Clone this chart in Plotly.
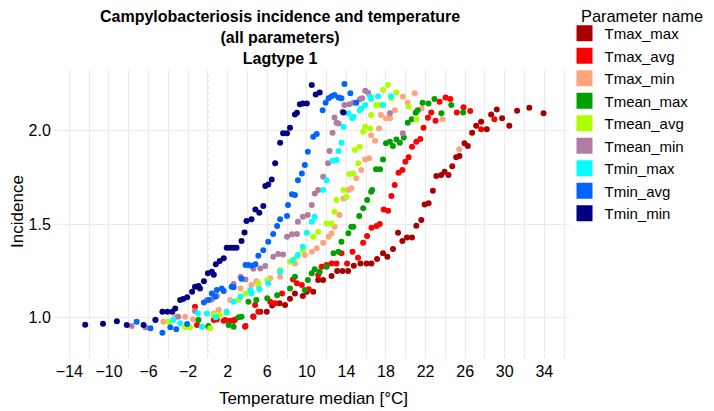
import plotly.graph_objects as go

# ---------------- data ----------------
series_names = ["Tmax_max", "Tmax_avg", "Tmax_min", "Tmean_max", "Tmean_avg",
                "Tmean_min", "Tmin_max", "Tmin_avg", "Tmin_min"]

tmax_max_x = [2.6, 3.8, 4.6, 5.3, 5.95, 6.5, 7.25, 7.8, 8.3, 8.8, 9.6, 10.0, 10.65, 11.15, 11.65,
              12.5, 13.07, 13.61, 14.17, 14.75, 15.42, 16.03, 16.53, 17.1, 17.7, 18.14, 18.71,
              19.22, 19.66, 20.12, 20.63, 21.07, 21.57, 21.91, 22.31, 22.74, 23.09, 23.59, 23.92,
              24.32, 24.7, 25.1, 25.43, 25.94, 26.27, 26.71, 27.12, 27.62, 28.19, 28.63, 29.2,
              29.74, 30.47, 31.25, 32.49, 33.93]
tmax_max_y = [0.982, 0.953, 1.005, 1.030, 1.030, 1.063, 1.075, 1.066, 1.100, 1.128, 1.114, 1.137,
              1.137, 1.200, 1.200, 1.221, 1.248, 1.248, 1.248, 1.277, 1.289, 1.289, 1.289, 1.312,
              1.343, 1.325, 1.366, 1.453, 1.409, 1.428, 1.428, 1.491, 1.521, 1.605, 1.611, 1.678,
              1.757, 1.762, 1.780, 1.762, 1.810, 1.857, 1.864, 1.932, 1.918, 1.989, 2.026, 2.048,
              2.007, 2.087, 2.114, 2.066, 2.026, 2.107, 2.123, 2.093]

tmax_avg_x = [-1.3, -1.1, 0.06, 0.6, 0.9, 1.6, 1.75, 2.25, 2.75, 3.76, 4.6, 4.77, 5.1, 6.3, 6.8,
              7.5, 8.6, 9.0, 9.5, 10.2, 11.15, 11.5, 12.0, 12.5, 13.0, 13.5, 14.07, 14.62, 15.18,
              15.69, 16.09, 16.53, 17.04, 17.37, 17.77, 18.21, 18.55, 18.88, 19.28, 19.66, 19.96,
              20.29, 20.63, 21.07, 21.47, 21.8, 22.24, 22.58, 23.01, 23.42, 24.02, 24.5, 25.16,
              25.84, 26.51, 27.62, 28.96]
tmax_avg_y = [1.057, 0.959, 0.950, 0.986, 0.989, 0.982, 0.986, 0.982, 0.989, 0.950, 1.003, 1.066,
              1.030, 1.084, 1.075, 1.128, 1.203, 1.182, 1.173, 1.150, 1.227, 1.271, 1.280, 1.289,
              1.289, 1.343, 1.289, 1.351, 1.319, 1.400, 1.436, 1.480, 1.489, 1.500, 1.578, 1.571,
              1.650, 1.709, 1.775, 1.789, 1.833, 1.857, 1.914, 1.941, 1.955, 2.016, 2.069, 2.098,
              2.053, 2.155, 2.178, 2.169, 2.098, 2.125, 2.105, 2.007, 2.061]

tmax_min_x = [-4.5, -3.3, -2.3, -1.5, 0.6, 1.1, 2.25, 3.3, 4.4, 4.9, 5.1, 6.3, 7.3, 8.8, 9.8, 10.5,
              11.0, 11.65, 12.2, 12.5, 12.8, 13.3, 13.7, 14.2, 14.5, 15.0, 15.5, 15.9, 16.3, 16.5,
              16.9, 17.3, 17.5, 18.0, 18.4, 18.9, 19.7, 20.2, 20.9, 21.6, 23.7, 25.4]
tmax_min_y = [0.977, 1.003, 1.003, 0.990, 1.021, 1.039, 1.093, 1.155, 1.173, 1.194, 1.173, 1.209,
              1.217, 1.289, 1.334, 1.351, 1.370, 1.400, 1.432, 1.450, 1.485, 1.548, 1.637, 1.682,
              1.691, 1.745, 1.789, 1.846, 1.852, 1.976, 1.946, 2.012, 2.084, 2.066, 2.066, 2.110,
              2.182, 2.150, 2.200, 2.119, 2.061, 1.900]

tmean_max_x = [-0.95, 0.06, 2.1, 2.6, 3.1, 3.4, 4.1, 4.9, 6.0, 7.0, 8.3, 8.8, 9.8, 10.1, 10.5, 10.8,
               11.3, 12.0, 12.7, 13.2, 13.5, 14.2, 14.5, 14.7, 15.3, 15.7, 16.1, 16.5, 16.6, 17.0,
               17.4, 17.7, 18.0, 18.4, 18.7, 19.05, 19.4, 19.8, 20.2, 20.6, 21.0, 21.2, 21.7, 22.3,
               22.9, 23.6, 24.6, 25.8]
tmean_max_y = [0.986, 0.953, 0.959, 0.950, 1.000, 1.003, 1.084, 1.093, 1.102, 1.119, 1.155, 1.217,
               1.146, 1.200, 1.236, 1.257, 1.244, 1.271, 1.343, 1.351, 1.405, 1.450, 1.485, 1.485,
               1.543, 1.584, 1.628, 1.673, 1.682, 1.793, 1.793, 1.846, 1.932, 1.941, 1.918, 1.953,
               1.935, 1.964, 2.042, 2.061, 2.096, 2.110, 2.150, 2.146, 2.169, 2.093, 2.137, 2.098]

tmean_avg_x = [-4.0, -2.3, -1.8, -0.6, 0.23, 0.6, 1.2, 1.9, 3.1, 3.8, 5.1, 6.0, 7.3, 8.3, 9.0,
               9.6, 10.65, 11.15, 12.0, 12.5, 12.8, 13.0, 13.7, 14.0, 14.3, 14.7, 14.85, 15.2,
               15.35, 15.7, 15.9, 16.4, 16.5, 17.0, 17.4, 17.7, 18.2, 18.55, 19.05, 20.3, 21.1]
tmean_avg_y = [0.977, 0.947, 0.946, 0.950, 0.941, 1.012, 1.012, 1.025, 1.093, 1.128, 1.182, 1.200,
               1.253, 1.298, 1.325, 1.360, 1.432, 1.459, 1.503, 1.503, 1.566, 1.628, 1.682, 1.646,
               1.768, 1.771, 1.896, 1.825, 1.914, 1.994, 2.021, 2.012, 2.084, 2.137, 2.137, 2.218,
               2.244, 2.173, 2.205, 2.128, 2.061]

tmean_min_x = [-7.7, -6.3, -5.3, -3.0, -1.3, -0.1, 0.4, 0.9, 2.6, 3.3, 3.8, 4.6, 5.3, 5.8, 6.6,
               7.1, 7.6, 8.0, 8.5, 9.0, 9.1, 9.6, 10.1, 10.5, 10.8, 11.15, 11.65, 12.15, 12.3, 12.6,
               12.8, 13.0, 13.2, 13.6, 13.8, 14.3, 14.7, 15.35, 15.6, 15.9, 16.2, 18.4, 19.7]
tmean_min_y = [0.953, 0.946, 0.989, 1.003, 1.034, 1.093, 1.096, 1.114, 1.178, 1.217, 1.203, 1.260,
               1.262, 1.275, 1.325, 1.339, 1.337, 1.432, 1.445, 1.446, 1.512, 1.539, 1.548, 1.602,
               1.664, 1.682, 1.753, 1.825, 1.891, 1.989, 2.071, 2.042, 2.039, 2.101, 2.137, 2.142,
               2.149, 2.168, 2.173, 2.214, 2.203, 2.093, 1.986]

tmin_max_x = [-3.5, -2.8, -1.0, -0.6, -0.1, 0.8, 1.9, 2.6, 3.3, 4.3, 4.4, 5.2, 6.1, 7.3, 8.6, 9.1,
              9.6, 10.0, 10.5, 10.8, 11.65, 12.0, 12.6, 13.0, 13.2, 13.5, 13.7, 14.2, 14.6, 14.7,
              15.35, 15.5, 15.9, 16.4, 16.5, 17.2, 17.7, 18.5]
tmin_max_y = [0.986, 0.968, 1.021, 0.950, 1.021, 1.000, 1.030, 1.084, 1.110, 1.146, 1.128, 1.150,
              1.182, 1.244, 1.307, 1.334, 1.378, 1.453, 1.512, 1.539, 1.682, 1.735, 1.839, 1.843,
              1.891, 1.935, 2.021, 2.093, 2.066, 2.074, 2.110, 2.119, 2.137, 2.182, 2.170, 2.185,
              2.137, 2.185]

tmin_avg_x = [-7.2, -5.8, -4.6, -3.8, -3.2, -2.1, -0.4, 0.74, 0.1, 0.4, 0.9, 1.4, 1.6, 2.4, 2.6,
              3.4, 3.8, 4.1, 4.4, 4.8, 5.1, 5.6, 6.1, 6.6, 7.0, 7.3, 8.0, 8.1, 8.5, 8.8, 9.1, 9.5,
              9.8, 10.1, 10.65, 11.0, 11.6, 11.9, 12.2, 12.5, 12.8, 13.2, 13.5, 13.8, 14.4, 15.0]
tmin_avg_y = [0.977, 0.941, 0.918, 0.947, 0.936, 0.964, 1.080, 1.110, 1.093, 1.128, 1.146, 1.155,
              1.141, 1.164, 1.161, 1.207, 1.280, 1.280, 1.276, 1.284, 1.330, 1.360, 1.405, 1.446,
              1.489, 1.525, 1.543, 1.602, 1.660, 1.655, 1.735, 1.771, 1.816, 1.887, 1.967, 1.982,
              2.110, 2.150, 2.173, 2.185, 2.191, 2.178, 2.173, 2.250, 2.200, 2.150]

tmin_min_x = [-12.4, -10.6, -9.2, -8.2, -6.5, -5.3, -4.6, -4.1, -3.6, -3.3, -2.8, -2.5, -2.1, -1.6,
              -1.3, -0.95, -0.8, -0.4, 0.0, 0.4, 0.6, 0.8, 1.2, 1.6, 1.9, 2.25, 2.6, 2.9, 3.4, 3.7,
              3.9, 4.4, 4.8, 5.2, 5.6, 5.8, 6.1, 6.45, 6.8, 7.3, 7.6, 8.0, 8.3, 8.8, 9.0, 9.3, 9.6,
              10.0, 10.5, 10.9, 11.3, 13.7]
tmin_min_y = [0.960, 0.966, 0.979, 0.959, 0.959, 0.986, 1.030, 1.030, 1.030, 1.048, 1.093, 1.098,
              1.107, 1.137, 1.164, 1.168, 1.155, 1.194, 1.236, 1.244, 1.228, 1.284, 1.302, 1.316,
              1.373, 1.373, 1.373, 1.373, 1.409, 1.455, 1.516, 1.525, 1.578, 1.560, 1.596, 1.703,
              1.712, 1.739, 1.825, 1.935, 1.986, 1.986, 2.016, 2.087, 2.096, 2.141, 2.146, 2.146,
              2.244, 2.194, 2.205, 2.098]

x_tick_values = [-14, -10, -6, -2, 2, 6, 10, 14, 18, 22, 26, 30, 34]
y_tick_values = [1.0, 1.5, 2.0]

title_text = "Campylobacteriosis incidence and temperature<br>(all parameters)<br>Lagtype 1"
legend_title_text = "Parameter name"

# ---------------- styling ----------------
series_x = [tmax_max_x, tmax_avg_x, tmax_min_x, tmean_max_x, tmean_avg_x,
            tmean_min_x, tmin_max_x, tmin_avg_x, tmin_min_x]
series_y = [tmax_max_y, tmax_avg_y, tmax_min_y, tmean_max_y, tmean_avg_y,
            tmean_min_y, tmin_max_y, tmin_avg_y, tmin_min_y]
colors = ["#A80000", "#FF0000", "#FFA47C", "#00A000", "#B0FF00",
          "#B07CA2", "#00FFFF", "#0064FF", "#000080"]

FONT = "Liberation Sans, Arial, sans-serif"
OFF = 8  # the page body margin offsets the figure inside the window
W, H = 714 - OFF, 411 - OFF
# target plot area in window pixels
win_l, win_r, win_t, win_b = 57.5, 569.5, 70, 353
plot_l, plot_r, plot_t, plot_b = win_l - OFF, win_r - OFF, win_t - OFF, win_b - OFF
ML, MR, MT, MB = plot_l, W - plot_r, plot_t, H - plot_b
pw, ph = plot_r - plot_l, plot_b - plot_t


def px_x(px):
    """window pixel x -> paper x"""
    return (px - OFF - plot_l) / pw


def px_y(py):
    """window pixel y -> paper y"""
    return (plot_b - (py - OFF)) / ph


fig = go.Figure()
for name, xs, ys, c in zip(series_names, series_x, series_y, colors):
    fig.add_trace(go.Scatter(
        x=xs, y=ys, mode="markers", name=name, legendgroup=name, showlegend=False,
        marker=dict(color=c, size=6, line=dict(width=0)),
    ))
for name, c in zip(series_names, colors):
    fig.add_trace(go.Scatter(
        x=[None], y=[None], mode="markers", name=name, legendgroup=name, showlegend=True,
        marker=dict(color=c, size=16, symbol="square", line=dict(width=0)),
    ))

fig.add_vline(x=0, line=dict(color="#C8C8C8", width=1, dash="dot"), layer="below")

fig.update_layout(
    width=W, height=H,
    margin=dict(l=ML, r=MR, t=MT, b=MB, autoexpand=False),
    paper_bgcolor="white", plot_bgcolor="white",
    font=dict(family=FONT, color="#000000", size=16),
    xaxis=dict(
        range=[-15.15, 36.5], tickvals=x_tick_values, ticks="outside", ticklen=4,
        tickcolor="#E6E6E6", showgrid=True, gridcolor="#EBEBEB", gridwidth=1,
        minor=dict(dtick=2, tick0=0, showgrid=True, gridcolor="#EBEBEB", ticks="outside",
                   ticklen=4, tickcolor="#E6E6E6"),
        zeroline=False, showline=False, tickfont=dict(size=16), automargin=False,
        title=dict(text="Temperature median [°C]", font=dict(size=17), standoff=12),
    ),
    yaxis=dict(
        range=[0.809, 2.325], tickvals=y_tick_values, tickformat=".1f", ticks="outside",
        ticklen=3, tickcolor="#E6E6E6", showgrid=True, gridcolor="#EBEBEB", gridwidth=1,
        zeroline=False, showline=False, tickfont=dict(size=16), automargin=False,
        title=dict(text="Incidence", font=dict(size=17), standoff=3),
    ),
    legend=dict(
        x=px_x(565), xanchor="left", y=px_y(17), yanchor="top",
        font=dict(size=15), itemsizing="trace", tracegroupgap=0,
        bgcolor="rgba(0,0,0,0)", borderwidth=0, maxheight=330,
    ),
    annotations=[
        dict(text="<b>" + title_text + "</b>", x=px_x(280), xanchor="center",
             y=px_y(6), yanchor="top", xref="paper", yref="paper", showarrow=False,
             font=dict(size=16), align="center"),
        dict(text=legend_title_text, x=px_x(580), xanchor="left",
             y=px_y(16), yanchor="middle", xref="paper", yref="paper", showarrow=False,
             font=dict(size=16.4)),
    ],
)

fig.write_html("out.html")
